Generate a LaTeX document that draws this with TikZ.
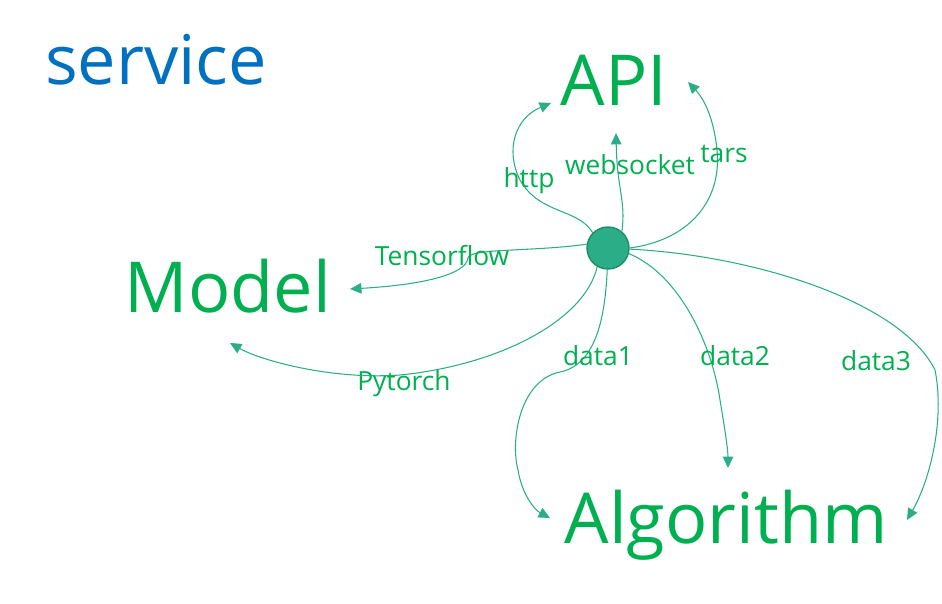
\documentclass[tikz,border=0pt]{standalone}
\usepackage{fontspec}
\setmainfont{Open Sans}
\usetikzlibrary{arrows.meta}

\definecolor{titleblue}{HTML}{0070C0}
\definecolor{textgreen}{HTML}{00B050}
\definecolor{linkgreen}{HTML}{2BAE88}
\definecolor{hubedge}{HTML}{1F8A6A}

\tikzset{
	big/.style = {text=textgreen, font=\fontsize{40}{40}\selectfont, inner sep=0pt, anchor=base},
	lbl/.style = {text=textgreen, font=\fontsize{15}{15}\selectfont, inner sep=0pt, anchor=base},
	link/.style = {draw=linkgreen, line width=0.6pt, -{Triangle[length=6.5pt,width=6pt]}}
}

\begin{document}
\begin{tikzpicture}
			[
				x = 0.02cm,
				y = -0.02cm
			]
			\useasboundingbox (0,0) rectangle (942,604);
			% title and targets
			\node[big, text=titleblue, font=\fontsize{39}{39}\selectfont] (service) at (156,85) {service};
			\node[big] (api) at (614,106) {API};
			\node[big] (model) at (228,312) {Model};
			\node[big] (algorithm) at (726,543) {Algorithm};
			% hub
			\node[circle, minimum size=0.84cm, inner sep=0pt, fill=linkgreen, draw=hubedge, line width=0.8pt] (hub) at (608,248) {};
			% arrow ends
			\coordinate (api-http) at (551,103);
			\coordinate (api-ws) at (616,133);
			\coordinate (api-tars) at (688,82);
			\coordinate (model-tf) at (350,289);
			\coordinate (model-pt) at (230,343);
			\coordinate (algo-d1) at (550,518);
			\coordinate (algo-d2) at (728,468);
			\coordinate (algo-d3) at (907,520);
			% connectors
			\draw[link] (hub.135) .. controls (578,208) and (540,215) .. (520,180)
				.. controls (505,150) and (515,118) .. (api-http);
			\draw[link] (hub.50) .. controls (626,200) and (617,190) .. (api-ws);
			\draw[link] (hub.0) .. controls (690,240) and (722,200) .. (717,150)
				.. controls (714,120) and (705,100) .. (api-tars);
			\draw[link] (hub.170) .. controls (530,252) and (470,248) .. (468,258)
				.. controls (466,275) and (420,285) .. (model-tf);
			\draw[link] (hub.240) .. controls (585,320) and (500,365) .. (400,375)
				.. controls (330,380) and (260,360) .. (model-pt);
			\draw[link] (hub.268) .. controls (605,320) and (595,365) .. (560,372)
				.. controls (520,380) and (510,440) .. (518,470)
				.. controls (522,495) and (535,510) .. (algo-d1);
			\draw[link] (hub.-15) .. controls (680,275) and (712,345) .. (720,400)
				.. controls (725,430) and (728,450) .. (algo-d2);
			\draw[link] (hub.-3) .. controls (750,255) and (900,300) .. (935,370)
				.. controls (945,420) and (930,480) .. (algo-d3);
			% labels
			\node[lbl] (http) at (529,188) {http};
			\node[lbl] (websocket) at (630,175) {websocket};
			\node[lbl] (tars) at (724,163) {tars};
			\node[lbl] (tensorflow) at (442,266) {Tensorflow};
			\node[lbl] (pytorch) at (404,390) {Pytorch};
			\node[lbl] (data1) at (598,365) {data1};
			\node[lbl] (data2) at (735,365) {data2};
			\node[lbl] (data3) at (876,370) {data3};
\end{tikzpicture}
\end{document}
